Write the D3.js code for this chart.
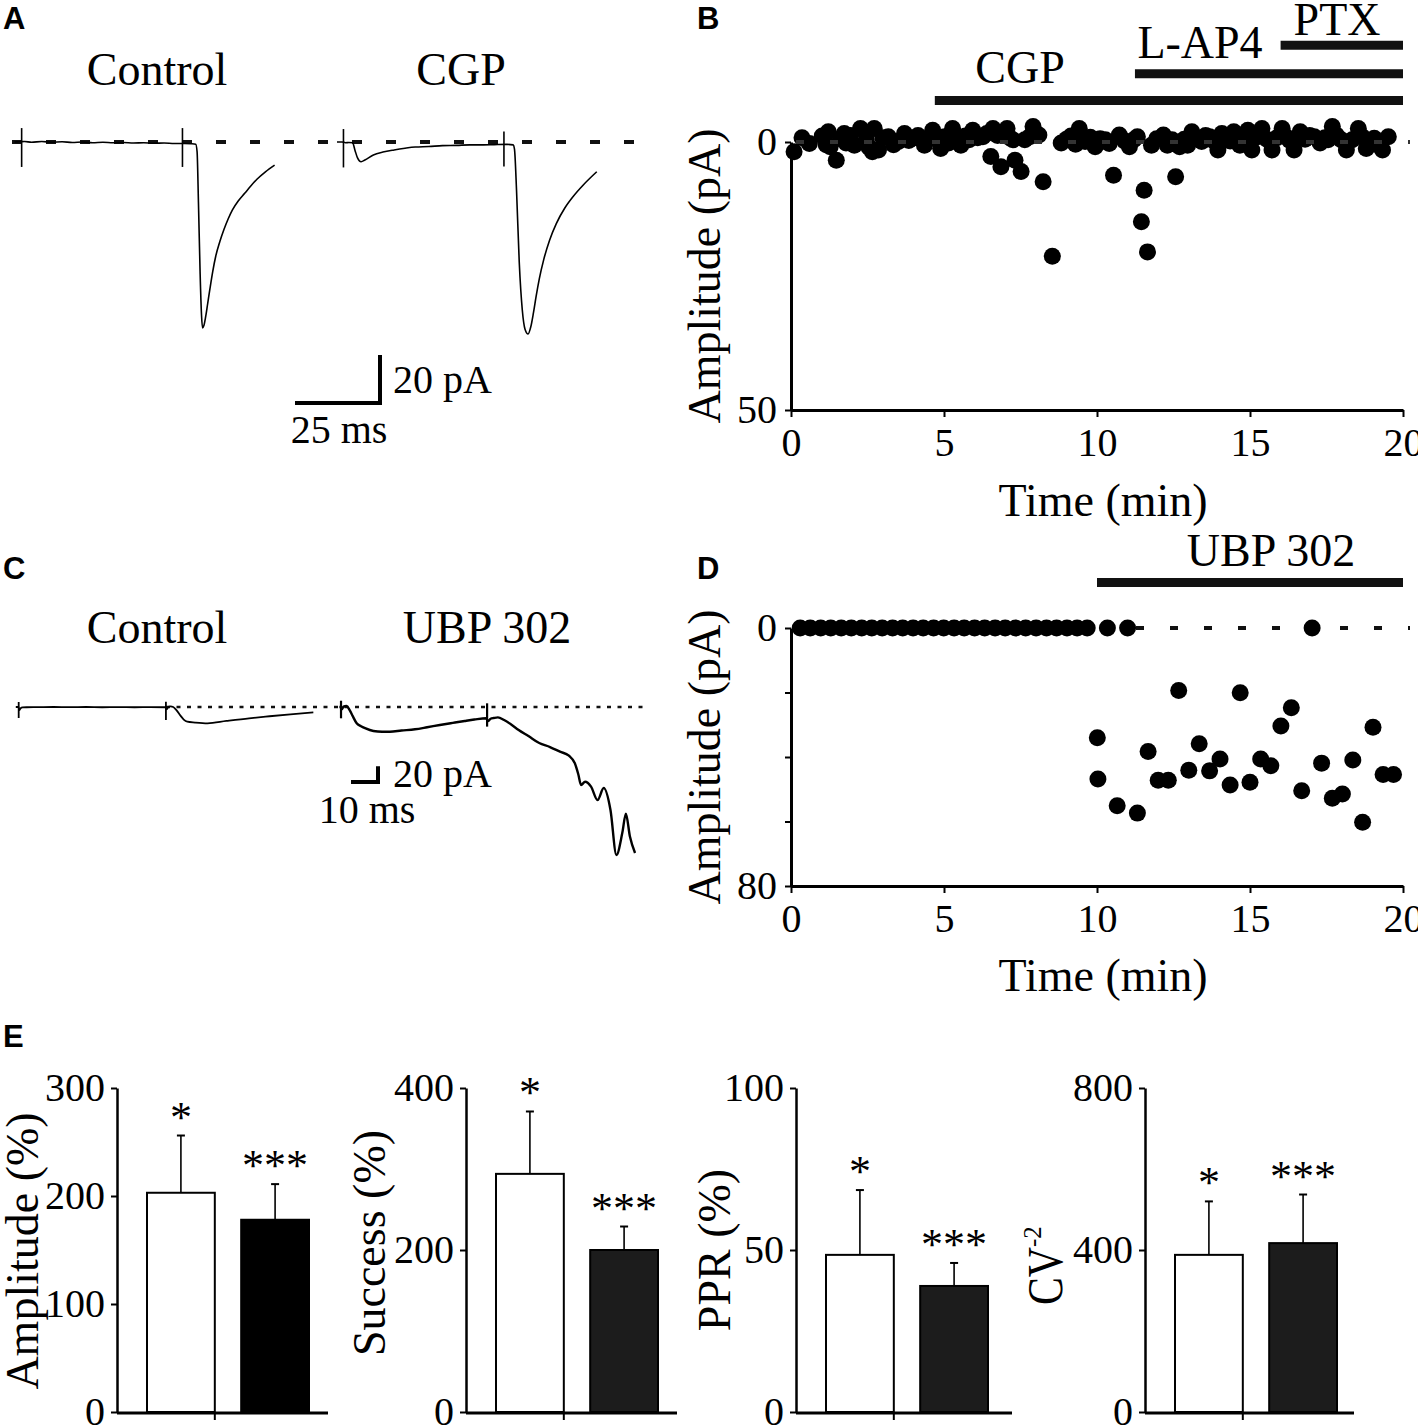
<!DOCTYPE html>
<html>
<head>
<meta charset="utf-8">
<script src="https://d3js.org/d3.v7.min.js"></script>
<style>
  body { margin: 0; background: #fff; }
  text { font-family: 'Liberation Serif', 'Times New Roman', serif; fill: #000; }
  .letter { font-family: 'Liberation Sans', Arial, sans-serif; font-weight: bold; font-size: 31px; }
</style>
</head>
<body>
<svg id="fig" width="1418" height="1427"></svg>
<script>
// ---------- data ----------
// panel A: example currents, [time ms, current pA]
const ctrlA = [[0,0],[1.5,0.1],[3,0.2],[5,-0.1],[8,0.2],[11,-0.1],[14,0.1],[17,-0.2],[20,0],[23,-0.3],[26,-0.1],[29,-0.3],[32,-0.2],[35,-0.4],[38,-0.3],[41,-0.5],[44,-0.4],[47,-0.6],[50,-0.6],[52,-0.7],[53.3,-0.9],[53.7,-4],[54.1,-25],[54.6,-55],[55.0,-72],[55.3,-77.5],[55.7,-76.5],[56.2,-73],[56.8,-67.5],[57.5,-61],[58.3,-54],[59.2,-47.5],[60.4,-41.5],[61.6,-36.5],[62.8,-32.2],[64.1,-28.3],[65.8,-24.6],[67.7,-21.4],[69.5,-18.3],[71.3,-15.5],[73.8,-12.4],[76.5,-9.6]];
const cgpA = [[0,0],[1.5,0],[2.5,-0.3],[3.5,-0.2],[4.6,-0.3],[5.3,-3.5],[6.0,-6.5],[7.1,-8.2],[8.2,-7.5],[10.7,-5.4],[13.5,-4.2],[16.8,-3.3],[20,-2.6],[23,-2.1],[27,-1.9],[31,-1.5],[35.2,-1.4],[39,-1.2],[43,-1.2],[46.2,-1.1],[50,-1.0],[51.8,-1.2],[52.2,-3],[52.8,-20],[53.6,-50],[54.5,-70],[55.3,-78],[56.2,-80],[57,-77],[57.8,-71],[58.6,-64],[59.5,-57],[60.8,-49],[62.5,-41],[64.5,-34],[67,-27.5],[69.4,-22.8],[72.5,-17.8],[76.4,-12.4]];
// stimulus artefacts: [time ms, top pA, bottom pA]
const ctrlAStim = [[2.1,5.8,-10.4],[49.4,5.8,-10.4]];
const cgpAStim = [[1.9,5.4,-10.6],[49.1,4.4,-10.2]];

// panel C: example currents
const ctrlC = [[0,0],[1.0,0],[1.3,-4],[1.8,-1.5],[2.5,-0.6],[4,-0.3],[8,-0.2],[14,0],[20,-0.2],[26,0],[32,-0.3],[38,-0.1],[44,-0.3],[50,-0.2],[55.5,-0.3],[55.9,-3],[56.5,0.2],[57.3,0.8],[58.3,0],[59.5,-4],[61,-11],[62.2,-16],[63.5,-18.7],[66.4,-19.8],[71,-20.8],[78,-17.8],[86.4,-14.4],[94,-11.8],[101.7,-9.3],[110.2,-6.8]];
const ubpC = [[0,0],[0.5,0],[0.9,-3],[1.5,0.5],[2.6,1.3],[3.8,-4],[5,-12],[6.4,-20.8],[8,-24.5],[9.5,-27],[12.6,-30.6],[15.8,-31.5],[18.7,-31.5],[23,-30],[28,-28.4],[32.5,-25.8],[37.2,-22.9],[42,-20.2],[46.4,-17.8],[50,-16],[54.4,-14.4],[55.0,-18],[56,-15],[57.2,-14],[58.7,-13.2],[61,-16.6],[63.5,-22],[66.4,-29.3],[70,-37],[74,-45.9],[78,-51],[81.7,-56.9],[85,-62],[87.2,-71.7],[88.5,-86],[89.5,-99.4],[91,-95.2],[93.2,-101.5],[95.6,-118.5],[97.9,-103.2],[100.4,-131.2],[102.6,-188.5],[104.8,-160],[106.1,-136],[107.6,-165],[109.5,-186]];
const ctrlCStim = [[1.07,6.4,-14],[55.6,6.7,-16.6]];
const ubpCStim = [[0.6,8,-14.4],[54.7,4.7,-25]];

// panel B: amplitude time course
const timeB = [0.10,0.36,0.6,1.02,1.15,1.22,1.28,1.48,1.62,1.74,1.8,1.95,2.07,2.27,2.46,2.55,2.66,2.72,2.86,3.0,3.18,3.35,3.51,3.71,3.85,3.97,4.15,4.36,4.5,4.63,4.75,4.89,5.02,5.15,5.28,5.42,5.55,5.7,5.82,5.94,6.1,6.27,6.4,6.53,6.6,6.75,6.86,7.06,7.15,7.25,7.32,7.52,7.64,7.8,7.91,8.1,8.24,8.54,8.83,9.0,9.15,9.3,9.42,9.61,9.78,9.94,10.1,10.27,10.4,10.54,10.73,10.9,11.06,11.2,11.32,11.45,11.54,11.65,11.78,11.95,12.17,12.3,12.45,12.57,12.7,12.85,12.96,13.1,13.25,13.42,13.55,13.68,13.82,13.95,14.08,14.2,14.35,14.47,14.6,14.67,14.8,14.93,15.06,15.2,15.39,15.55,15.72,15.88,16.05,16.2,16.3,16.44,16.64,16.8,16.95,17.1,17.29,17.45,17.55,17.69,17.82,17.98,18.15,18.34,18.54,18.67,18.8,18.95,19.06,19.2,19.33,19.52];
const ampB = [1.8,-0.8,0.3,-1.1,0.5,-1.9,0.9,3.4,-0.6,-1.6,0.2,-1.2,0.6,-2.5,-0.4,1.0,1.8,-2.5,1.5,-0.8,-1.0,0.5,-0.1,-1.6,-0.3,-0.7,-1.2,0.6,-0.5,-2.2,-0.9,1.2,-1.0,0.2,-2.5,-0.6,0.6,-1.1,-0.4,-2.2,-0.8,-1.0,-1.6,2.7,-2.5,-1.2,4.6,-2.5,-0.8,-0.4,3.4,5.5,-0.4,-1.0,-2.9,-1.3,7.4,21.3,0.2,-0.5,-1.1,0.4,-2.5,-0.1,-0.9,0.9,-0.6,-0.4,0.3,6.2,-1.3,-0.2,0.9,-0.4,-1.0,14.9,9.0,20.5,0.6,-0.6,-1.3,0.6,-0.4,6.5,0.9,-0.5,0.6,-1.9,-0.7,-0.1,-1.2,-1.0,-0.2,1.5,-1.6,-0.8,-0.2,-1.9,-1.0,0.6,-0.6,-2.2,1.5,-0.9,-2.5,-0.5,1.5,-0.8,-2.5,-0.9,-0.3,1.5,-1.9,-0.5,-1.2,-1.0,0.2,-0.8,-0.4,-2.9,-1.3,-0.4,1.5,-0.4,-2.5,-1.0,1.2,0.2,-0.7,0.6,1.5,-1.0];
const drugsB = ['CGP', 'L-AP4', 'PTX'];
const drugStartB = [4.7, 11.24, 16.0];

// panel D: amplitude time course
const timeD = [0.30,0.63,0.97,1.30,1.64,1.97,2.31,2.64,2.98,3.32,3.65,3.99,4.32,4.66,4.99,5.33,5.66,6.00,6.33,6.67,7.00,7.34,7.67,8.01,8.35,8.68,9.02,9.35,9.68,10.01,10.03,10.34,10.66,11.0,11.32,11.67,12.0,12.33,12.67,13.0,13.34,13.68,14.02,14.35,14.68,15.0,15.35,15.68,16.01,16.35,16.69,17.03,17.34,17.69,18.02,18.36,18.68,19.02,19.35,19.69];
const ampD = [0,0,0,0,0,0,0,0,0,0,0,0,0,0,0,0,0,0,0,0,0,0,0,0,0,0,0,0,0,34.0,46.8,0,55.1,0,57.4,38.3,47.2,47.2,19.4,44.1,35.9,44.3,40.6,48.7,20.1,47.8,40.6,42.7,30.4,24.7,50.5,0,41.9,52.8,51.5,40.9,60.2,30.8,45.4,45.4];
const drugsD = ['UBP 302'];
const drugStartD = [10];

// panel E: summary bars (mean, SEM) for control and drug
const eGroups = ['Control', 'Drug'];
const eTitles = ['Amplitude (%)', 'Success (%)', 'PPR (%)', 'CV'];
const eMax = [300, 400, 100, 800];
const eTicks = [[0,100,200,300], [0,200,400], [0,50,100], [0,400,800]];
const eMeans = [[203,178], [294,200], [48.5,38.9], [388,417]];
const eSems = [[53,33], [77,29], [20,7.1], [132,120]];
const eStars = ['*', '***'];

// ---------- drawing ----------
const svg = d3.select('#fig');
svg.append('rect').attr('width', 1418).attr('height', 1427).attr('fill', '#fff');

function label(x, y, s, size, anchor, rot) {
  return svg.append('text')
    .attr('transform', `translate(${x},${y})` + (rot ? ` rotate(${rot})` : ''))
    .attr('text-anchor', anchor || 'middle')
    .attr('font-size', size)
    .text(s);
}
function hline(x1, x2, y, w, dash, col) {
  return svg.append('line').attr('x1', x1).attr('x2', x2).attr('y1', y).attr('y2', y)
    .attr('stroke', col || '#000').attr('stroke-width', w)
    .attr('stroke-dasharray', dash || null);
}
function trace(pts, x0, sx, sy, w) {
  const line = d3.line().x(d => x0 + sx(d[0])).y(d => sy(d[1])).curve(d3.curveMonotoneX);
  svg.append('path').attr('d', line(pts)).attr('fill', 'none')
    .attr('stroke', '#000').attr('stroke-width', w).attr('stroke-linejoin', 'round');
}
function stims(arr, x0, sx, sy, w) {
  arr.forEach(s => svg.append('line')
    .attr('x1', x0 + sx(s[0])).attr('x2', x0 + sx(s[0]))
    .attr('y1', sy(s[1])).attr('y2', sy(s[2]))
    .attr('stroke', '#000').attr('stroke-width', w));
}
function styleAxis(g, size) {
  g.attr('font-family', "'Liberation Serif', serif").attr('font-size', size);
  g.select('.domain').attr('stroke-width', 3);
  g.selectAll('.tick line').attr('stroke-width', 2);
  g.selectAll('.tick text').attr('fill', '#000');
}

// panel letters
[['A',3,29],['B',697,29],['C',3,579],['D',697,579],['E',3,1047]].forEach(d =>
  svg.append('text').attr('class', 'letter').attr('x', d[1]).attr('y', d[2]).text(d[0]));

// ----- panel A -----
const msA = d3.scaleLinear().domain([0, 25]).range([0, 85]);
const pA_A = d3.scaleLinear().domain([0, -20]).range([142, 190]);
hline(12, 634, 142, 4, '10,24', '#111');
trace(ctrlA, 14.5, msA, pA_A, 1.6);
trace(cgpA, 337, msA, pA_A, 1.6);
stims(ctrlAStim, 14.5, msA, pA_A, 1.6);
stims(cgpAStim, 337, msA, pA_A, 1.6);
label(157, 85, 'Control', 46);
label(461, 85, 'CGP', 46);
// scale bar 25 ms / 20 pA
{
  const x0 = 295, y0 = 403;
  svg.append('path')
    .attr('d', `M${x0},${y0}H${x0 + msA(25)}V${y0 - (pA_A(-20) - pA_A(0))}`)
    .attr('fill', 'none').attr('stroke', '#000').attr('stroke-width', 4);
  label(393, 393, '20 pA', 40, 'start');
  label(339, 443, '25 ms', 40);
}

// ----- panel C -----
const msC = d3.scaleLinear().domain([0, 10]).range([0, 27]);
const pA_C = d3.scaleLinear().domain([0, -20]).range([707, 722.7]);
hline(166, 643, 707, 2.5, '4,6.5', '#111');
trace(ctrlC, 15.8, msC, pA_C, 1.8);
trace(ubpC, 339.4, msC, pA_C, 2.4);
stims(ctrlCStim, 15.8, msC, pA_C, 1.8);
stims(ubpCStim, 339.4, msC, pA_C, 2.2);
label(157, 643, 'Control', 46);
label(487, 643, 'UBP 302', 46);
{
  const x0 = 351, y0 = 782;
  svg.append('path')
    .attr('d', `M${x0},${y0}H${x0 + msC(10)}V${y0 - (pA_C(-20) - pA_C(0))}`)
    .attr('fill', 'none').attr('stroke', '#000').attr('stroke-width', 4);
  label(393, 787, '20 pA', 40, 'start');
  label(367, 823, '10 ms', 40);
}

// ----- panels B and D -----
const xT = d3.scaleLinear().domain([0, 20]).range([791, 1403]);

function timeCourse(yTop, yBot, yMax, ticks, times, amps, drugs, starts, barY, labX, labY, dashOnTop, titleY) {
  const y = d3.scaleLinear().domain([0, yMax]).range([yTop, yBot]);
  const gx = svg.append('g').attr('transform', `translate(0,${yBot})`)
    .call(d3.axisBottom(xT).tickValues([0, 5, 10, 15, 20]).tickSize(7).tickPadding(11).tickSizeOuter(0));
  styleAxis(gx, 40);
  const gy = svg.append('g').attr('transform', `translate(${xT(0)},0)`)
    .call(d3.axisLeft(y).tickValues(ticks).tickSize(6).tickPadding(8).tickSizeOuter(0)
      .tickFormat(d => (d === 0 || d === yMax) ? d : ''));
  styleAxis(gy, 40);

  const dash = () => hline(xT(0) + 5, 1410, y(0), 4, '8,26', dashOnTop ? '#333' : '#111');
  if (!dashOnTop) dash();
  svg.append('g').selectAll('circle').data(times).join('circle')
    .attr('cx', d => xT(d)).attr('cy', (d, i) => y(amps[i])).attr('r', 8.5).attr('fill', '#000');
  if (dashOnTop) dash();

  drugs.forEach((d, i) => {
    svg.append('line').attr('x1', xT(starts[i])).attr('x2', xT(20))
      .attr('y1', barY[i]).attr('y2', barY[i]).attr('stroke', '#111').attr('stroke-width', 9);
    label(labX[i], labY[i], d, 46);
  });
  label(720, (yTop + yBot) / 2, 'Amplitude (pA)', 46, 'middle', -90);
  label(1103, titleY, 'Time (min)', 46);
}

timeCourse(142, 410, 50, [0, 50], timeB, ampB, drugsB, drugStartB,
  [100.5, 73.8, 45.3], [1020, 1200, 1337], [83, 58, 35], true, 516);
timeCourse(628, 886, 80, [0, 20, 40, 60, 80], timeD, ampD, drugsD, drugStartD,
  [582.5], [1271], [566], false, 991);

// ----- panel E -----
const axX = [117, 466, 796, 1145];
const axEnd = [328, 677, 1012, 1354];
const titleX = [38, 385, 730, 1062];
const titleY = [1251, 1243, 1250, 1305];

eTitles.forEach((t, i) => {
  const ax = axX[i];
  const y = d3.scaleLinear().domain([0, eMax[i]]).range([1412, 1088]);
  const x = d3.scaleBand().domain(eGroups).range([ax + 30, ax + 192]).paddingInner(0.28).paddingOuter(0);
  const bw = x.bandwidth();

  const gy = svg.append('g').attr('transform', `translate(${ax},0)`)
    .call(d3.axisLeft(y).tickValues(eTicks[i]).tickSize(6).tickPadding(6).tickSizeOuter(0));
  styleAxis(gy, 40);
  gy.select('.domain').attr('stroke-width', 2.5);

  eGroups.forEach((g, j) => {
    const v = eMeans[i][j], top = v + eSems[i][j];
    const cx = x(g) + bw / 2;
    svg.append('line').attr('x1', cx).attr('x2', cx).attr('y1', y(v)).attr('y2', y(top))
      .attr('stroke', '#000').attr('stroke-width', 1.6);
    svg.append('line').attr('x1', cx - 4).attr('x2', cx + 4).attr('y1', y(top)).attr('y2', y(top))
      .attr('stroke', '#000').attr('stroke-width', 2);
    svg.append('rect').attr('x', x(g)).attr('y', y(v)).attr('width', bw).attr('height', y(0) - y(v))
      .attr('fill', j === 0 ? '#fff' : (i === 0 ? '#000' : '#1c1c1c'))
      .attr('stroke', '#000').attr('stroke-width', 2);
    label(cx, y(top) - 4, eStars[j], 44);
  });

  hline(ax, axEnd[i], 1413, 3);
  const mid = x(eGroups[0]) + bw;
  svg.append('line').attr('x1', mid).attr('x2', mid).attr('y1', 1413).attr('y2', 1420)
    .attr('stroke', '#000').attr('stroke-width', 2);

  if (i < 3) {
    label(titleX[i], titleY[i], t, 46, 'middle', -90);
  } else {
    label(titleX[i], titleY[i], t, 50, 'start', -90)
      .attr('textLength', 58).attr('lengthAdjust', 'spacingAndGlyphs');
    label(titleX[i] - 21, titleY[i] - 58, '-2', 25, 'start', -90);
  }
});
</script>
</body>
</html>
